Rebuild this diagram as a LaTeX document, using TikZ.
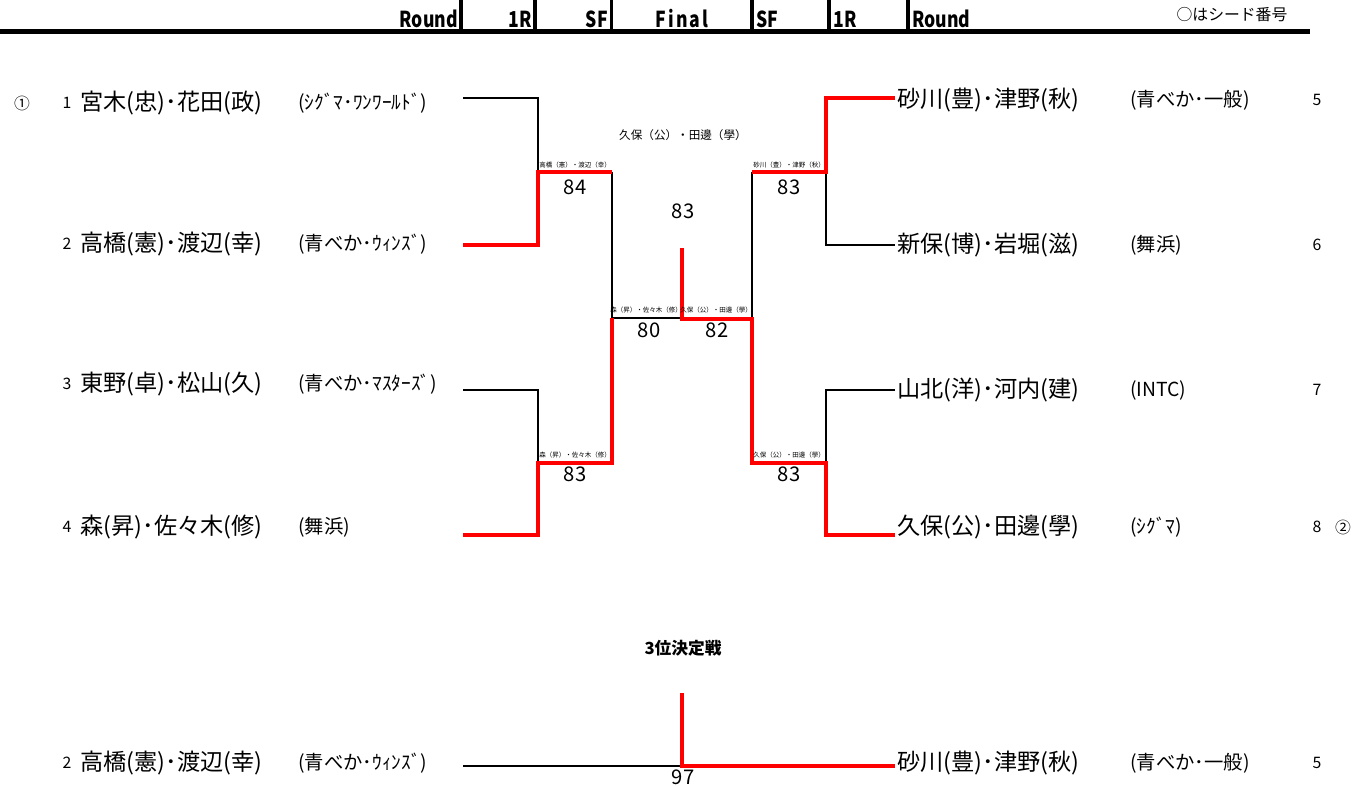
\documentclass[tikz,border=0pt]{standalone}
\usepackage{fontspec}
\setmainfont{Noto Sans CJK JP}
\usetikzlibrary{positioning}
\newcommand{\headtxt}[1]{\scalebox{0.8}[1]{#1}}

\begin{document}
\begin{tikzpicture}[x=0.02cm,y=-0.02cm,
    win/.style={draw=red,line width=2.8pt},
    lose/.style={draw=black,line width=1pt},
    player/.style={anchor=west,inner sep=0pt,font=\fontsize{13.2}{15}\selectfont},
    team/.style={anchor=west,inner sep=0pt,font=\fontsize{11}{12}\selectfont},
    seed/.style={inner sep=0pt,font=\fontsize{9}{10}\selectfont},
    sign/.style={inner sep=0pt,font=\fontsize{9}{10}\selectfont},
    pair/.style={inner sep=0pt,font=\fontsize{3.7}{4}\selectfont},
    score/.style={inner sep=0pt,font=\fontsize{11.5}{13}\selectfont},
    head/.style={inner sep=0pt,font=\bfseries\fontsize{12.5}{14}\selectfont},
    headbar/.style={line width=2.2pt}]
  \useasboundingbox (0,0) rectangle (1370,787);

  % header
  \draw[line width=2.4pt] (0,31.5) -- (1310,31.5);
  \node[head,anchor=east] (h1) at (458,19) {\headtxt{Round}};
  \node[head,anchor=east] (h2) at (532,19) {\headtxt{1R}};
  \node[head,anchor=east] (h3) at (608,19) {\headtxt{SF}};
  \node[head] (h4) at (682,19) {\headtxt{F\kern1.5pt i\kern1.5pt n\kern1.5pt a\kern1.5pt l}};
  \node[head,anchor=west] (h5) at (756,19) {\headtxt{SF}};
  \node[head,anchor=west] (h6) at (833,19) {\headtxt{1R}};
  \node[head,anchor=west] (h7) at (912,19) {\headtxt{Round}};
  \draw[headbar] (461,0) -- (461,30);
  \draw[headbar] (535,0) -- (535,30);
  \draw[headbar] (611.5,0) -- (611.5,30);
  \draw[headbar] (752,0) -- (752,30);
  \draw[headbar] (829,0) -- (829,30);
  \draw[headbar] (908,0) -- (908,30);
  \node[sign] (note) at (1232,15) {○はシード番号};

  % left half
  \node[sign] (s1) at (22,103) {①};
  \node[seed] (n1) at (67,103) {1};
  \node[player] (p1) at (80,103) {宮木(忠)･花田(政)};
  \node[team] (t1) at (298,103) {(ｼｸﾞﾏ･ﾜﾝﾜｰﾙﾄﾞ)};
  \node[seed] (n2) at (67,244) {2};
  \node[player] (p2) at (80,244) {高橋(憲)･渡辺(幸)};
  \node[team] (t2) at (298,244) {(青べか･ｳｨﾝｽﾞ)};
  \node[seed] (n3) at (67,384) {3};
  \node[player] (p3) at (80,384) {東野(卓)･松山(久)};
  \node[team] (t3) at (298,384) {(青べか･ﾏｽﾀｰｽﾞ)};
  \node[seed] (n4) at (67,527) {4};
  \node[player] (p4) at (80,527) {森(昇)･佐々木(修)};
  \node[team] (t4) at (298,527) {(舞浜)};

  % right half
  \node[player] (p5) at (897,100) {砂川(豊)･津野(秋)};
  \node[team] (t5) at (1130,100) {(青べか･一般)};
  \node[seed] (n5) at (1317,100) {5};
  \node[player] (p6) at (897,245) {新保(博)･岩堀(滋)};
  \node[team] (t6) at (1130,245) {(舞浜)};
  \node[seed] (n6) at (1317,245) {6};
  \node[player] (p7) at (897,390) {山北(洋)･河内(建)};
  \node[team] (t7) at (1130,390) {(INTC)};
  \node[seed] (n7) at (1317,390) {7};
  \node[player] (p8) at (897,527) {久保(公)･田邊(學)};
  \node[team] (t8) at (1130,527) {(ｼｸﾞﾏ)};
  \node[seed] (n8) at (1317,527) {8};
  \node[sign] (s2) at (1343,527) {②};

  % bracket points
  \coordinate (e1) at (463,98);
  \coordinate (e2) at (463,245);
  \coordinate (e3) at (463,390);
  \coordinate (e4) at (463,535);
  \coordinate (e5) at (895,98);
  \coordinate (e6) at (895,245);
  \coordinate (e7) at (895,390);
  \coordinate (e8) at (895,535);
  \coordinate (m1) at (538,172);
  \coordinate (m1o) at (612,172);
  \coordinate (m3) at (538,463);
  \coordinate (m3o) at (612,463);
  \coordinate (m5) at (826,172);
  \coordinate (m5o) at (752,172);
  \coordinate (m7) at (826,463);
  \coordinate (m7o) at (752,463);
  \coordinate (sfL) at (612,318);
  \coordinate (sfR) at (752,319);
  \coordinate (fin) at (682,319);
  \coordinate (champ) at (682,248);

  % losers
  \draw[lose] (e1) -| (m1);
  \draw[lose] (e3) -| (m3);
  \draw[lose] (e6) -| (m5);
  \draw[lose] (e7) -| (m7);
  \draw[lose] (m1o) -- (sfL);
  \draw[lose] (m5o) -- (sfR);
  \draw[lose] (sfL) -- (fin |- sfL);
  % winners
  \draw[win] (e2) -| (m1) -- (m1o);
  \draw[win] (e4) -| (m3) -- (m3o) -- (sfL);
  \draw[win] (e5) -| (m5) -- (m5o);
  \draw[win] (e8) -| (m7) -- (m7o) -- (sfR) -- (fin) -- (champ);

  % match labels
  \node[pair] (l1) at (575,165) {高橋（憲）・渡辺（幸）};
  \node[score] (r1) at (575,187) {84};
  \node[pair] (l3) at (575,455) {森（昇）・佐々木（修）};
  \node[score] (r3) at (575,474) {83};
  \node[pair] (l5) at (789,165) {砂川（豊）・津野（秋）};
  \node[score] (r5) at (789,187) {83};
  \node[pair] (l7) at (789,455) {久保（公）・田邊（學）};
  \node[score] (r7) at (789,474) {83};
  \node[pair] (lf1) at (646,310) {森（昇）・佐々木（修）};
  \node[score] (rf1) at (649,330) {80};
  \node[pair] (lf2) at (716,310) {久保（公）・田邊（學）};
  \node[score] (rf2) at (717,330) {82};
  \node[inner sep=0pt,font=\fontsize{6.6}{8}\selectfont] (lc) at (683,135) {久保（公）・田邊（學）};
  \node[score] (rc) at (683,211) {83};

  % third place
  \node[inner sep=0pt,font=\bfseries\fontsize{9.5}{11}\selectfont] (third) at (683,648) {3位決定戦};
  \node[seed] (n9) at (67,763) {2};
  \node[player] (p9) at (80,763) {高橋(憲)･渡辺(幸)};
  \node[team] (t9) at (298,763) {(青べか･ｳｨﾝｽﾞ)};
  \node[player] (p10) at (897,763) {砂川(豊)･津野(秋)};
  \node[team] (t10) at (1130,763) {(青べか･一般)};
  \node[seed] (n10) at (1317,763) {5};
  \coordinate (e9) at (463,766);
  \coordinate (e10) at (895,766);
  \coordinate (q) at (682,766);
  \coordinate (qt) at (682,693);
  \draw[lose] (e9) -- (q);
  \draw[win] (qt) -- (q) -- (e10);
  \node[score] (rq) at (683,777) {97};
\end{tikzpicture}
\end{document}
